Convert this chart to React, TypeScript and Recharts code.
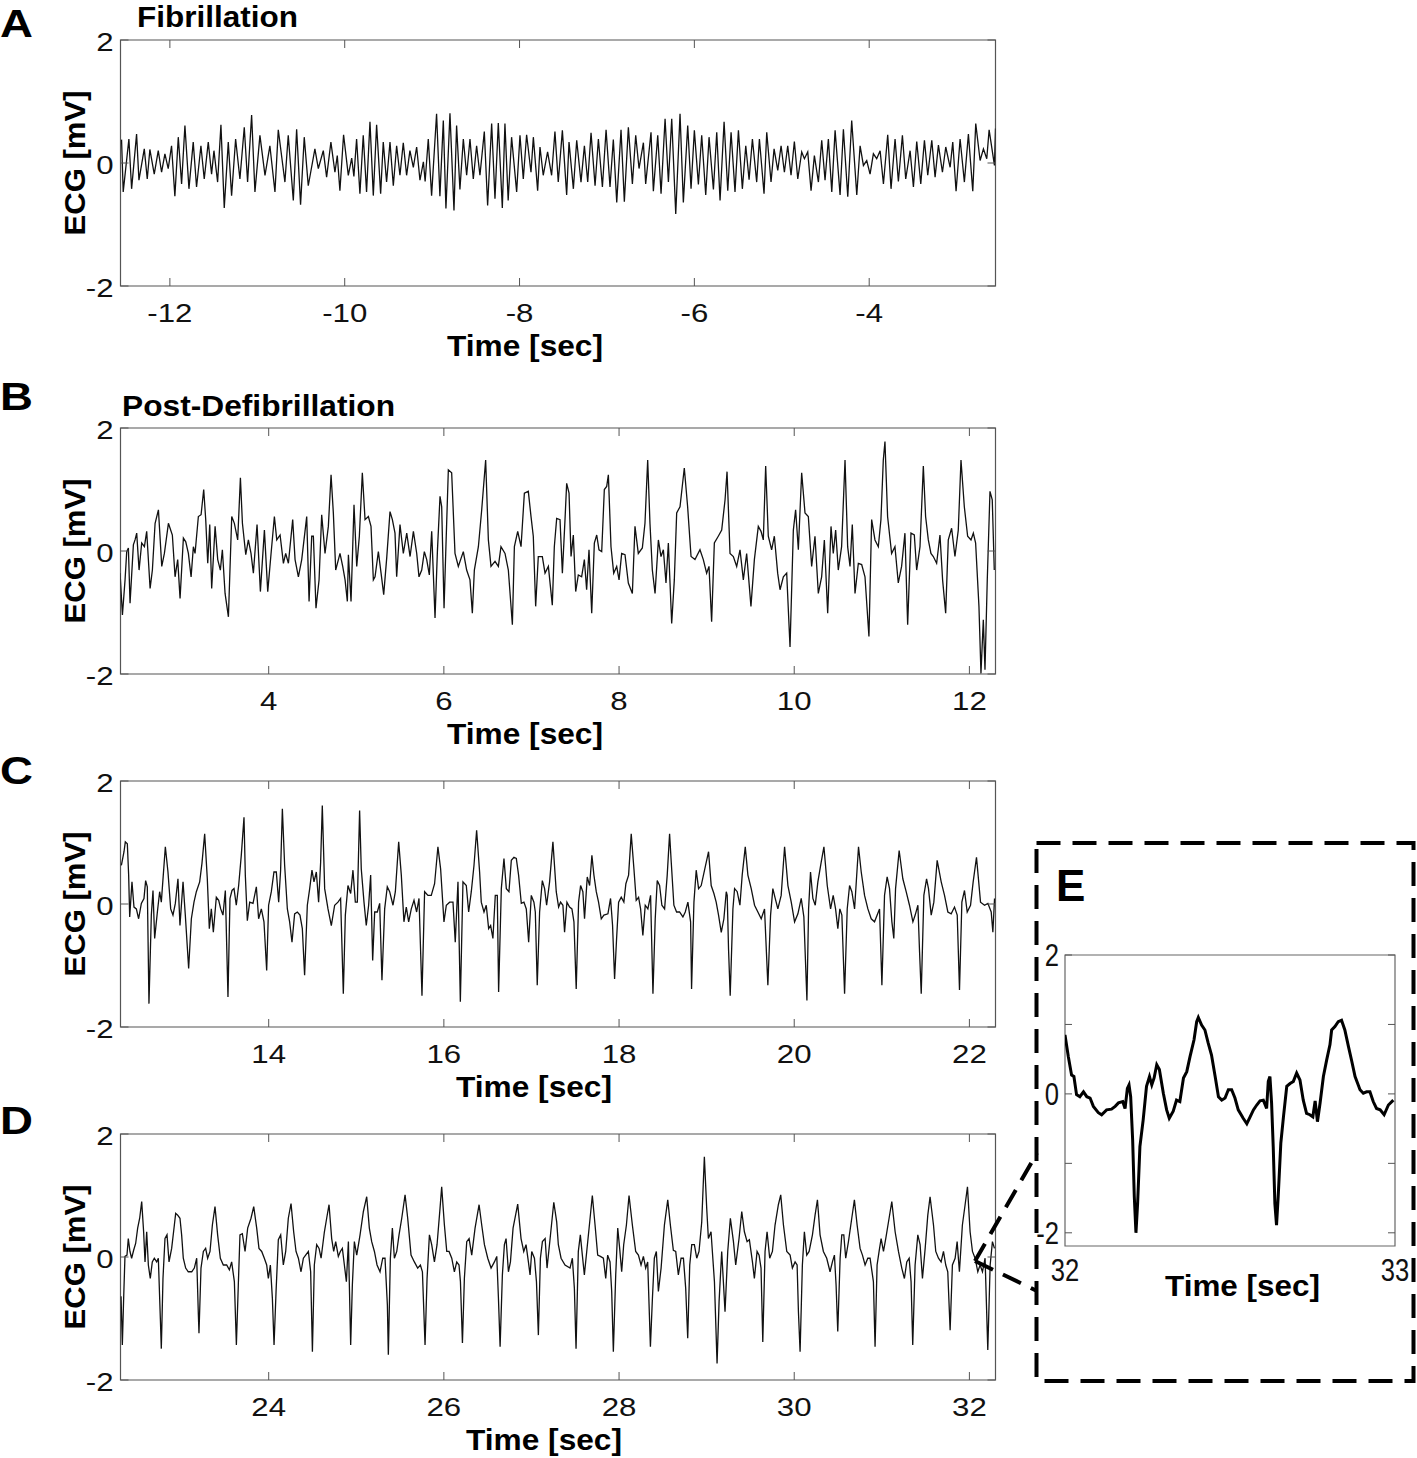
import React from "react";
import { LineChart, Line, XAxis, YAxis, ReferenceArea } from "recharts";

const FONT = '"Liberation Sans", Arial, Helvetica, sans-serif';
const INK = "#111";
const FRAME = "#555";

// Turning points of each trace, [time in sec, ECG in mV]

// A: fibrillation
const fibrillationEcg: [number, number][] = [
  [-12.553, 0.38], [-12.534, -0.47], [-12.469, 0.39], [-12.438, -0.42], [-12.381, 0.47], [-12.354, -0.28],
  [-12.293, 0.23], [-12.259, -0.26], [-12.229, 0.22], [-12.179, -0.18], [-12.133, 0.2], [-12.095, -0.15],
  [-12.057, 0.15], [-12.019, -0.09], [-11.981, 0.28], [-11.943, -0.54], [-11.904, 0.42], [-11.866, -0.34],
  [-11.828, 0.61], [-11.782, -0.42], [-11.733, 0.34], [-11.695, -0.39], [-11.645, 0.28], [-11.607, -0.26],
  [-11.561, 0.34], [-11.523, -0.18], [-11.496, 0.2], [-11.454, -0.31], [-11.416, 0.62], [-11.378, -0.73],
  [-11.332, 0.34], [-11.294, -0.53], [-11.248, 0.39], [-11.199, -0.26], [-11.149, 0.58], [-11.111, -0.31],
  [-11.065, 0.78], [-11.027, -0.47], [-10.97, 0.45], [-10.912, -0.2], [-10.856, 0.28], [-10.798, -0.47],
  [-10.76, 0.54], [-10.684, -0.31], [-10.646, 0.45], [-10.588, -0.61], [-10.55, 0.55], [-10.505, -0.68],
  [-10.463, 0.42], [-10.417, -0.37], [-10.341, 0.23], [-10.302, -0.09], [-10.245, 0.2], [-10.207, -0.23],
  [-10.158, 0.34], [-10.112, -0.15], [-10.085, 0.12], [-10.055, -0.45], [-10.013, 0.46], [-9.959, -0.2],
  [-9.92, 0.08], [-9.895, -0.22], [-9.864, 0.39], [-9.826, -0.5], [-9.788, 0.45], [-9.75, -0.47],
  [-9.711, 0.67], [-9.673, -0.53], [-9.635, 0.62], [-9.589, -0.5], [-9.559, 0.34], [-9.521, -0.31],
  [-9.482, 0.34], [-9.444, -0.37], [-9.406, 0.28], [-9.368, -0.2], [-9.33, 0.33], [-9.292, -0.2],
  [-9.254, 0.2], [-9.215, -0.07], [-9.177, 0.26], [-9.139, -0.28], [-9.1, 0.02], [-9.08, -0.3],
  [-9.044, 0.39], [-9.006, -0.53], [-8.949, 0.8], [-8.911, -0.54], [-8.872, 0.69], [-8.842, -0.74],
  [-8.796, 0.81], [-8.75, -0.77], [-8.72, 0.61], [-8.682, -0.43], [-8.643, 0.39], [-8.605, -0.2],
  [-8.567, 0.39], [-8.529, -0.26], [-8.491, 0.28], [-8.453, -0.2], [-8.403, 0.51], [-8.365, -0.69],
  [-8.319, 0.64], [-8.281, -0.58], [-8.243, 0.65], [-8.197, -0.73], [-8.167, 0.64], [-8.13, -0.61],
  [-8.091, 0.42], [-8.033, -0.47], [-7.995, 0.45], [-7.957, -0.26], [-7.919, 0.46], [-7.869, -0.15],
  [-7.842, 0.42], [-7.793, -0.45], [-7.766, 0.26], [-7.729, -0.2], [-7.679, 0.18], [-7.633, -0.2],
  [-7.595, 0.51], [-7.557, -0.31], [-7.51, 0.53], [-7.461, -0.52], [-7.434, 0.34], [-7.384, -0.42],
  [-7.346, 0.37], [-7.297, -0.31], [-7.258, 0.28], [-7.22, -0.31], [-7.182, 0.49], [-7.136, -0.37],
  [-7.098, 0.39], [-7.052, -0.39], [-7.01, 0.54], [-6.965, -0.39], [-6.927, 0.38], [-6.888, -0.64],
  [-6.839, 0.54], [-6.801, -0.63], [-6.755, 0.58], [-6.709, -0.34], [-6.671, 0.45], [-6.633, -0.09],
  [-6.583, 0.33], [-6.557, -0.34], [-6.496, 0.5], [-6.469, -0.46], [-6.419, 0.45], [-6.381, -0.5],
  [-6.335, 0.72], [-6.297, -0.31], [-6.259, 0.72], [-6.213, -0.83], [-6.164, 0.8], [-6.126, -0.64],
  [-6.076, 0.61], [-6.038, -0.42], [-6.0, 0.53], [-5.954, -0.35], [-5.916, 0.45], [-5.87, -0.52],
  [-5.832, 0.42], [-5.782, -0.43], [-5.744, 0.5], [-5.706, -0.61], [-5.66, 0.67], [-5.618, -0.45],
  [-5.58, 0.5], [-5.535, -0.47], [-5.496, 0.53], [-5.451, -0.42], [-5.412, 0.28], [-5.374, -0.27],
  [-5.336, 0.39], [-5.287, -0.31], [-5.256, 0.39], [-5.203, -0.5], [-5.172, 0.5], [-5.123, -0.31],
  [-5.088, 0.23], [-5.046, -0.12], [-5.008, 0.28], [-4.97, -0.15], [-4.932, 0.28], [-4.894, -0.2],
  [-4.856, 0.35], [-4.817, -0.26], [-4.772, 0.18], [-4.741, 0.07], [-4.703, 0.18], [-4.665, -0.45],
  [-4.627, 0.12], [-4.581, -0.31], [-4.543, 0.37], [-4.505, -0.28], [-4.467, 0.39], [-4.428, -0.47],
  [-4.39, 0.53], [-4.333, -0.52], [-4.295, 0.55], [-4.245, -0.55], [-4.2, 0.69], [-4.142, -0.52],
  [-4.104, 0.28], [-4.066, -0.04], [-4.028, 0.04], [-3.99, -0.18], [-3.952, 0.15], [-3.914, 0.07],
  [-3.875, 0.2], [-3.837, -0.34], [-3.788, 0.46], [-3.75, -0.42], [-3.704, 0.39], [-3.666, -0.3],
  [-3.62, 0.45], [-3.582, -0.26], [-3.532, 0.2], [-3.494, -0.39], [-3.456, 0.35], [-3.41, -0.34],
  [-3.368, 0.37], [-3.33, -0.2], [-3.284, 0.37], [-3.246, -0.23], [-3.208, 0.29], [-3.162, -0.15],
  [-3.124, 0.26], [-3.074, -0.07], [-3.044, 0.34], [-3.006, -0.46], [-2.96, 0.39], [-2.911, -0.31],
  [-2.865, 0.47], [-2.815, -0.46], [-2.781, 0.64], [-2.731, 0.04], [-2.693, 0.23], [-2.655, 0.07],
  [-2.628, 0.54], [-2.567, -0.04], [-2.555, 0.56],
];

// B: post-defibrillation
const postShockEcg: [number, number][] = [
  [2.303, -0.36], [2.33, -1.04], [2.36, -0.47], [2.379, -0.01], [2.398, 0.05], [2.417, -0.85], [2.455, 0.1],
  [2.474, 0.18], [2.493, 0.29], [2.52, -0.31], [2.55, 0.13], [2.581, 0.07], [2.607, 0.32], [2.646, -0.61],
  [2.672, -0.31], [2.703, 0.45], [2.741, 0.67], [2.779, -0.25], [2.809, -0.04], [2.855, 0.45], [2.9, 0.26],
  [2.931, -0.42], [2.961, -0.14], [2.988, -0.77], [3.026, 0.21], [3.053, 0.15], [3.083, -0.04], [3.114, -0.42],
  [3.14, 0.07], [3.159, -0.04], [3.197, 0.56], [3.228, 0.59], [3.258, 1.0], [3.281, 0.51], [3.304, -0.2],
  [3.327, 0.43], [3.349, -0.61], [3.388, 0.4], [3.418, -0.14], [3.448, -0.31], [3.471, 0.02], [3.502, -0.69],
  [3.54, -1.07], [3.578, 0.56], [3.608, 0.45], [3.646, 0.18], [3.677, 1.19], [3.7, 0.45], [3.738, -0.06],
  [3.768, 0.18], [3.798, -0.04], [3.825, -0.36], [3.867, 0.43], [3.905, -0.66], [3.951, 0.34], [3.989, -0.66],
  [4.027, -0.04], [4.065, 0.56], [4.092, 0.18], [4.13, 0.26], [4.168, -0.2], [4.194, -0.04], [4.225, -0.2],
  [4.274, 0.51], [4.301, -0.14], [4.339, -0.42], [4.377, -0.14], [4.434, 0.56], [4.461, -0.82], [4.491, 0.24],
  [4.51, 0.24], [4.54, -0.93], [4.575, -0.47], [4.605, 0.59], [4.643, -0.04], [4.681, 0.4], [4.712, 1.24],
  [4.738, 0.62], [4.765, -0.31], [4.814, -0.04], [4.845, -0.25], [4.872, -0.47], [4.898, -0.82], [4.91, -0.06],
  [4.94, -0.82], [4.974, 0.75], [5.005, -0.25], [5.035, 0.24], [5.069, 1.27], [5.1, 0.51], [5.138, 0.56],
  [5.168, 0.4], [5.195, -0.47], [5.214, -0.42], [5.252, -0.01], [5.283, -0.36], [5.313, -0.71], [5.347, -0.12],
  [5.385, 0.64], [5.412, 0.51], [5.442, 0.29], [5.461, -0.42], [5.499, 0.43], [5.537, -0.04], [5.576, 0.29],
  [5.614, -0.09], [5.652, 0.32], [5.69, -0.04], [5.716, -0.42], [5.747, -0.31], [5.777, -0.01], [5.804, -0.14],
  [5.834, -0.39], [5.861, 0.32], [5.899, -1.09], [5.926, -0.01], [5.956, 0.89], [5.975, 0.72], [6.002, -0.93],
  [6.021, -0.04], [6.051, 1.32], [6.089, 1.27], [6.127, -0.04], [6.165, -0.25], [6.222, -0.01], [6.26, -0.31],
  [6.298, -0.47], [6.325, -1.01], [6.348, -0.31], [6.394, 0.07], [6.432, 0.67], [6.477, 1.48], [6.508, 0.18],
  [6.538, -0.25], [6.584, -0.17], [6.622, -0.25], [6.652, 0.07], [6.698, -0.04], [6.736, -0.31], [6.782, -1.2],
  [6.805, 0.07], [6.843, 0.32], [6.881, 0.07], [6.919, 0.94], [6.964, 0.97], [6.995, 0.56], [7.021, 0.24],
  [7.048, -0.9], [7.078, -0.09], [7.124, -0.09], [7.155, -0.36], [7.193, -0.25], [7.238, -0.88], [7.261, 0.07],
  [7.288, 0.53], [7.326, 0.51], [7.353, -0.36], [7.383, 0.51], [7.402, 1.1], [7.429, 0.94], [7.452, -0.09],
  [7.478, 0.26], [7.505, -0.66], [7.535, -0.39], [7.573, -0.42], [7.604, -0.14], [7.63, -0.63], [7.657, 0.02],
  [7.688, -1.01], [7.718, 0.13], [7.745, 0.26], [7.771, 0.02], [7.802, -0.01], [7.832, 1.0], [7.859, 1.05],
  [7.878, 1.24], [7.908, 0.07], [7.939, -0.36], [7.973, -0.25], [8.0, -0.47], [8.03, -0.04], [8.068, -0.06],
  [8.106, -0.52], [8.152, -0.69], [8.182, 0.4], [8.22, -0.04], [8.266, 0.05], [8.296, 0.45], [8.327, 1.48],
  [8.353, 0.45], [8.38, -0.31], [8.411, -0.69], [8.449, 0.18], [8.479, -0.09], [8.506, 0.02], [8.536, -0.52],
  [8.563, 0.13], [8.601, -1.18], [8.631, -0.47], [8.658, 0.62], [8.696, 0.72], [8.745, 1.35], [8.783, 0.72],
  [8.822, -0.09], [8.867, -0.14], [8.924, 0.02], [8.962, -0.14], [9.0, -0.36], [9.027, -0.25], [9.057, -1.15],
  [9.088, 0.13], [9.133, 0.24], [9.172, 0.34], [9.21, 0.83], [9.233, 1.29], [9.267, -0.04], [9.305, -0.09],
  [9.343, -0.25], [9.381, 0.02], [9.419, -0.47], [9.457, -0.04], [9.506, -0.9], [9.545, -0.14], [9.59, 0.4],
  [9.621, 0.32], [9.647, 0.18], [9.674, 1.38], [9.704, 0.24], [9.742, 0.02], [9.773, 0.24], [9.811, -0.36],
  [9.838, -0.63], [9.876, -0.42], [9.914, -0.36], [9.952, -1.56], [9.99, 0.34], [10.016, 0.67], [10.047, 0.02],
  [10.085, 1.27], [10.123, 0.62], [10.161, 0.56], [10.199, -0.25], [10.237, 0.24], [10.275, -0.69], [10.313, -0.42],
  [10.344, 0.18], [10.382, -1.01], [10.42, 0.4], [10.446, -0.04], [10.473, 0.34], [10.503, -0.31], [10.541, 0.07],
  [10.58, 1.48], [10.61, 0.07], [10.637, -0.25], [10.663, 0.43], [10.694, -0.69], [10.732, -0.2], [10.77, -0.22],
  [10.808, -0.42], [10.853, -1.39], [10.884, 0.51], [10.922, 0.18], [10.96, 0.07], [10.99, 0.51], [11.017, 1.48],
  [11.036, 1.78], [11.066, 0.56], [11.112, -0.04], [11.15, 0.07], [11.188, -0.52], [11.226, -0.25], [11.264, 0.29],
  [11.295, -1.2], [11.333, 0.29], [11.371, 0.26], [11.398, -0.31], [11.436, 0.07], [11.474, 1.38], [11.5, 0.56],
  [11.531, 0.18], [11.561, -0.04], [11.588, -0.09], [11.626, -0.2], [11.664, 0.26], [11.694, -0.47], [11.729, -1.01],
  [11.759, 0.18], [11.797, 0.37], [11.835, -0.09], [11.873, 0.34], [11.904, 1.48], [11.942, 0.72], [11.98, 0.24],
  [12.018, 0.18], [12.045, 0.29], [12.071, 0.13], [12.109, -0.9], [12.132, -1.99], [12.159, -1.12], [12.178, -1.93],
  [12.204, -0.47], [12.235, 0.97], [12.261, 0.83], [12.284, -0.31],
];

// C: 12-22 s
const recoveryEcg: [number, number][] = [
  [12.318, 0.63], [12.348, 0.85], [12.363, 1.01], [12.386, 0.98], [12.401, 0.47], [12.413, -0.21], [12.439, 0.36],
  [12.462, -0.05], [12.489, -0.08], [12.515, -0.24], [12.546, 0.01], [12.576, 0.09], [12.595, 0.38], [12.614, 0.28],
  [12.633, -1.62], [12.66, -0.18], [12.679, 0.22], [12.698, -0.56], [12.729, -0.13], [12.755, 0.2], [12.774, 0.03],
  [12.82, 0.93], [12.85, 0.52], [12.881, -0.08], [12.907, -0.18], [12.934, 0.01], [12.964, 0.41], [12.987, -0.35],
  [13.022, 0.36], [13.048, -0.18], [13.086, -1.05], [13.117, -0.24], [13.147, 0.03], [13.174, 0.2], [13.212, 0.36],
  [13.238, 0.66], [13.269, 1.14], [13.299, 0.41], [13.322, -0.4], [13.345, -0.08], [13.368, -0.46], [13.402, 0.11],
  [13.429, 0.06], [13.452, -0.08], [13.478, -0.18], [13.505, 0.22], [13.535, -1.51], [13.558, 0.09], [13.581, 0.22],
  [13.604, 0.25], [13.63, -0.02], [13.657, 0.3], [13.687, 0.79], [13.718, 1.41], [13.733, 0.47], [13.756, -0.27],
  [13.783, 0.03], [13.821, 0.01], [13.859, 0.28], [13.885, -0.24], [13.916, -0.08], [13.946, -0.29], [13.977, -1.08],
  [13.999, -0.02], [14.03, 0.2], [14.06, 0.52], [14.087, 0.52], [14.114, 0.03], [14.136, 0.55], [14.156, 1.55],
  [14.182, 0.63], [14.213, -0.08], [14.239, -0.29], [14.266, -0.62], [14.296, -0.16], [14.327, -0.13], [14.357, -0.18],
  [14.384, -0.4], [14.41, -1.16], [14.441, -0.02], [14.468, 0.25], [14.494, 0.55], [14.517, 0.36], [14.544, 0.52],
  [14.57, 0.03], [14.593, 0.68], [14.612, 1.6], [14.639, 0.25], [14.677, -0.08], [14.715, -0.35], [14.753, -0.02],
  [14.791, 0.03], [14.821, 0.09], [14.852, -1.46], [14.875, -0.18], [14.905, 0.3], [14.936, 0.17], [14.962, 0.55],
  [14.989, 0.03], [15.012, 0.03], [15.038, 1.52], [15.057, 0.57], [15.088, 0.03], [15.114, -0.35], [15.141, -0.02],
  [15.164, 0.47], [15.187, -0.92], [15.21, -0.13], [15.24, -0.13], [15.267, 0.01], [15.293, -1.24], [15.324, -0.08],
  [15.354, 0.28], [15.381, 0.2], [15.419, -0.02], [15.446, 0.2], [15.484, 1.01], [15.514, 0.47], [15.544, -0.29],
  [15.571, -0.05], [15.598, -0.29], [15.628, -0.08], [15.659, 0.06], [15.689, -0.13], [15.716, 0.09], [15.75, -1.49],
  [15.78, 0.2], [15.818, 0.14], [15.856, 0.14], [15.894, 0.33], [15.932, 0.93], [15.963, 0.57], [16.001, -0.29],
  [16.028, -0.02], [16.066, 0.03], [16.104, 0.03], [16.13, -0.62], [16.161, 0.36], [16.188, -1.59], [16.218, 0.36],
  [16.256, 0.3], [16.283, -0.13], [16.313, 0.2], [16.344, 0.63], [16.374, 1.2], [16.408, 0.52], [16.427, 0.03],
  [16.458, -0.13], [16.484, -0.02], [16.511, -0.4], [16.534, -0.35], [16.56, -0.56], [16.587, 0.14], [16.61, 0.14],
  [16.625, -1.43], [16.656, 0.25], [16.686, 0.74], [16.713, 0.25], [16.743, 0.2], [16.77, 0.71], [16.8, 0.76],
  [16.827, 0.74], [16.853, 0.47], [16.884, 0.01], [16.914, 0.03], [16.941, -0.08], [16.968, -0.62], [16.998, 0.14],
  [17.028, 0.03], [17.044, -0.13], [17.066, -1.32], [17.093, -0.13], [17.124, 0.38], [17.15, 0.25], [17.173, -0.02],
  [17.207, 0.36], [17.245, 1.01], [17.283, 0.2], [17.31, -0.05], [17.332, 0.03], [17.359, -0.02], [17.378, -0.46],
  [17.405, 0.03], [17.435, -0.05], [17.462, -0.08], [17.485, -0.29], [17.511, -1.38], [17.538, 0.03], [17.561, 0.3],
  [17.587, 0.2], [17.606, -0.24], [17.637, 0.44], [17.664, 0.3], [17.69, 0.79], [17.713, 0.47], [17.74, 0.2],
  [17.766, 0.03], [17.797, -0.24], [17.827, -0.18], [17.873, -0.16], [17.903, 0.09], [17.926, -0.35], [17.949, -1.22],
  [17.972, -0.56], [17.995, 0.03], [18.025, 0.11], [18.055, 0.03], [18.078, 0.33], [18.109, 0.47], [18.139, 1.14],
  [18.17, 0.57], [18.196, 0.06], [18.223, 0.11], [18.246, -0.08], [18.272, -0.51], [18.299, -0.02], [18.329, -0.08],
  [18.36, 0.14], [18.387, -1.46], [18.413, -0.24], [18.436, 0.38], [18.463, 0.3], [18.489, -0.02], [18.52, -0.08],
  [18.55, 0.47], [18.577, 1.14], [18.596, 0.68], [18.626, -0.02], [18.657, -0.13], [18.691, -0.13], [18.729, -0.21],
  [18.756, -0.13], [18.786, 0.03], [18.817, -0.29], [18.828, -1.38], [18.855, 0.03], [18.881, 0.55], [18.908, 0.25],
  [18.938, 0.3], [18.976, 0.55], [19.022, 0.85], [19.052, 0.3], [19.083, 0.17], [19.109, 0.03], [19.136, -0.18],
  [19.167, -0.46], [19.197, -0.24], [19.224, 0.2], [19.235, 0.14], [19.25, -0.73], [19.269, -1.49], [19.3, -0.08],
  [19.319, 0.25], [19.349, 0.2], [19.38, -0.02], [19.406, 0.47], [19.441, 0.93], [19.471, 0.47], [19.509, 0.25],
  [19.547, -0.02], [19.585, -0.13], [19.623, -0.24], [19.661, -0.08], [19.699, -1.32], [19.73, -0.18], [19.756, 0.25],
  [19.783, 0.09], [19.813, -0.08], [19.851, 0.14], [19.89, 0.93], [19.928, 0.3], [19.966, 0.03], [20.004, -0.29],
  [20.042, -0.16], [20.08, 0.09], [20.11, -0.21], [20.145, -1.57], [20.164, -0.08], [20.186, 0.52], [20.213, 0.09],
  [20.24, -0.02], [20.27, 0.36], [20.308, 0.68], [20.339, 0.93], [20.377, 0.3], [20.415, -0.08], [20.445, 0.14],
  [20.472, -0.08], [20.498, -0.4], [20.521, -0.08], [20.544, -0.18], [20.575, -1.46], [20.605, -0.08], [20.632, 0.3],
  [20.658, 0.2], [20.689, -0.08], [20.734, 0.93], [20.765, 0.52], [20.803, 0.14], [20.841, -0.08], [20.879, -0.24],
  [20.917, -0.29], [20.947, -0.18], [20.974, -0.08], [21.001, -1.32], [21.031, 0.14], [21.061, 0.44], [21.088, 0.25],
  [21.115, -0.29], [21.137, -0.56], [21.157, 0.25], [21.198, 0.87], [21.24, 0.41], [21.278, 0.2], [21.316, -0.02],
  [21.355, -0.29], [21.381, -0.18], [21.412, -0.02], [21.431, -0.78], [21.45, -1.46], [21.48, 0.14], [21.511, 0.41],
  [21.533, 0.25], [21.564, -0.18], [21.594, 0.03], [21.632, 0.71], [21.678, 0.36], [21.716, 0.14], [21.754, -0.13],
  [21.792, -0.16], [21.83, -0.05], [21.861, -0.18], [21.887, -1.4], [21.914, 0.03], [21.944, 0.22], [21.975, -0.13],
  [22.013, -0.02], [22.043, 0.36], [22.081, 0.76], [22.127, 0.03], [22.173, -0.02], [22.211, 0.01], [22.249, -0.13],
  [22.268, -0.46], [22.287, 0.09],
];

// D: 22-32 s
const lateEcg: [number, number][] = [
  [22.314, -0.64], [22.329, -1.43], [22.344, -0.67], [22.359, 0.01], [22.382, 0.03], [22.397, 0.3], [22.416, 0.09],
  [22.435, -0.02], [22.458, 0.11], [22.481, 0.22], [22.504, 0.47], [22.527, 0.63], [22.55, 0.9], [22.572, 0.41],
  [22.588, -0.08], [22.607, 0.41], [22.626, -0.13], [22.648, -0.35], [22.671, -0.08], [22.694, -0.02], [22.721, -0.08],
  [22.74, -0.02], [22.763, -1.0], [22.774, -1.49], [22.793, -0.35], [22.816, 0.3], [22.839, 0.36], [22.862, -0.08],
  [22.892, 0.14], [22.923, 0.52], [22.938, 0.71], [22.961, 0.68], [22.987, 0.63], [23.006, 0.36], [23.025, -0.02],
  [23.052, -0.18], [23.082, -0.24], [23.121, -0.24], [23.151, -0.18], [23.178, -0.02], [23.197, -0.94], [23.204, -1.24],
  [23.227, -0.18], [23.254, 0.09], [23.28, 0.14], [23.303, -0.02], [23.33, 0.09], [23.357, 0.52], [23.387, 0.82],
  [23.417, 0.36], [23.448, -0.02], [23.482, -0.13], [23.52, -0.13], [23.551, -0.21], [23.577, -0.08], [23.608, -0.4],
  [23.631, -1.43], [23.653, -0.46], [23.672, 0.36], [23.699, 0.38], [23.73, 0.09], [23.76, 0.47], [23.798, 0.63],
  [23.829, 0.82], [23.863, 0.47], [23.889, 0.14], [23.92, 0.09], [23.95, -0.02], [23.977, -0.13], [23.996, -0.35],
  [24.019, -0.13], [24.042, -0.67], [24.061, -1.43], [24.084, -0.56], [24.11, 0.28], [24.137, 0.36], [24.167, -0.13],
  [24.194, 0.09], [24.224, 0.63], [24.255, 0.87], [24.285, 0.41], [24.312, 0.09], [24.339, -0.02], [24.369, -0.24],
  [24.396, -0.02], [24.422, 0.03], [24.453, 0.09], [24.479, -0.24], [24.499, -1.54], [24.521, -0.13], [24.548, 0.2],
  [24.575, 0.14], [24.598, -0.02], [24.636, 0.41], [24.662, 0.63], [24.689, 0.85], [24.719, 0.3], [24.742, 0.09],
  [24.765, 0.25], [24.795, 0.01], [24.818, 0.09], [24.841, 0.14], [24.864, -0.13], [24.887, -0.4], [24.91, 0.25],
  [24.936, -1.43], [24.955, -0.46], [24.978, 0.25], [25.005, 0.03], [25.043, 0.36], [25.081, 0.74], [25.119, 0.98],
  [25.149, 0.47], [25.176, 0.25], [25.207, 0.09], [25.237, -0.13], [25.271, -0.24], [25.302, -0.02], [25.328, -0.02],
  [25.355, -0.78], [25.366, -1.59], [25.389, -0.02], [25.412, 0.47], [25.435, -0.02], [25.462, 0.09], [25.488, 0.36],
  [25.519, 0.63], [25.557, 1.01], [25.587, 0.63], [25.625, 0.03], [25.663, -0.08], [25.701, -0.18], [25.732, -0.13],
  [25.755, -0.24], [25.785, -1.43], [25.808, -0.35], [25.835, 0.36], [25.861, 0.2], [25.892, -0.08], [25.922, 0.2],
  [25.956, 0.79], [25.975, 1.14], [26.006, 0.52], [26.033, 0.09], [26.059, 0.09], [26.09, -0.02], [26.12, -0.24],
  [26.147, -0.08], [26.173, -0.13], [26.189, -0.4], [26.212, -1.4], [26.234, -0.35], [26.261, 0.25], [26.288, 0.3],
  [26.318, 0.03], [26.356, 0.47], [26.402, 0.85], [26.432, 0.52], [26.463, 0.2], [26.501, -0.02], [26.539, -0.18],
  [26.577, -0.08], [26.604, 0.01], [26.623, -0.67], [26.642, -1.46], [26.668, -0.29], [26.691, 0.2], [26.71, 0.3],
  [26.737, -0.24], [26.76, -0.08], [26.79, 0.47], [26.843, 0.86], [26.881, 0.3], [26.912, 0.09], [26.938, 0.2],
  [26.965, -0.08], [26.984, -0.29], [27.003, 0.09], [27.034, -0.02], [27.057, -0.4], [27.079, -1.27], [27.102, -0.02],
  [27.125, 0.25], [27.156, 0.3], [27.178, -0.18], [27.213, 0.3], [27.255, 0.89], [27.288, 0.57], [27.307, 0.2],
  [27.338, -0.02], [27.383, -0.13], [27.44, -0.18], [27.467, -0.02], [27.49, -0.51], [27.509, -1.49], [27.535, 0.09],
  [27.558, 0.36], [27.581, 0.03], [27.604, -0.29], [27.631, 0.09], [27.665, 0.57], [27.695, 1.0], [27.726, 0.52],
  [27.756, 0.03], [27.787, 0.01], [27.821, -0.02], [27.848, -0.35], [27.87, 0.03], [27.897, -0.08], [27.916, -0.56],
  [27.935, -1.54], [27.962, -0.29], [27.985, 0.47], [28.007, 0.14], [28.03, -0.24], [28.053, 0.2], [28.084, 0.52],
  [28.114, 1.0], [28.152, 0.52], [28.19, 0.09], [28.221, 0.03], [28.251, -0.13], [28.278, 0.01], [28.304, -0.18],
  [28.327, -0.08], [28.358, -1.46], [28.381, -0.67], [28.403, -0.02], [28.426, 0.09], [28.449, -0.56], [28.48, -0.18],
  [28.518, 0.52], [28.556, 0.93], [28.586, 0.52], [28.62, 0.11], [28.647, 0.09], [28.677, -0.29], [28.708, -0.02],
  [28.735, -0.02], [28.761, -0.51], [28.784, -1.32], [28.807, -0.13], [28.83, 0.2], [28.86, 0.2], [28.887, -0.02],
  [28.913, 0.09], [28.944, 0.57], [28.974, 1.63], [29.001, 0.79], [29.02, 0.3], [29.05, 0.41], [29.089, -0.4],
  [29.119, -1.73], [29.142, -0.73], [29.172, 0.09], [29.21, -0.89], [29.241, 0.09], [29.271, 0.63], [29.306, 0.25],
  [29.332, -0.13], [29.37, 0.3], [29.401, 0.74], [29.431, 0.41], [29.462, 0.25], [29.488, 0.28], [29.523, -0.08],
  [29.545, -0.35], [29.576, 0.09], [29.599, 0.03], [29.621, -0.18], [29.641, -1.38], [29.667, 0.09], [29.69, 0.41],
  [29.72, -0.02], [29.751, 0.09], [29.781, 0.52], [29.819, 0.85], [29.846, 1.01], [29.877, 0.52], [29.915, 0.09],
  [29.953, 0.03], [29.979, -0.18], [30.01, -0.08], [30.033, -0.13], [30.048, -0.89], [30.067, -1.54], [30.093, -0.13],
  [30.116, 0.41], [30.143, 0.03], [30.17, 0.09], [30.208, 0.36], [30.238, 0.68], [30.265, 0.93], [30.295, 0.36],
  [30.333, 0.09], [30.371, -0.02], [30.409, -0.24], [30.436, -0.08], [30.459, 0.03], [30.478, -0.46], [30.497, -1.21],
  [30.524, -0.02], [30.543, 0.36], [30.566, 0.36], [30.588, -0.02], [30.619, 0.25], [30.657, 0.63], [30.687, 0.93],
  [30.718, 0.52], [30.752, 0.14], [30.779, 0.03], [30.809, -0.13], [30.84, -0.02], [30.866, -0.02], [30.904, -0.4],
  [30.923, -1.46], [30.946, -0.13], [30.969, 0.09], [30.992, 0.3], [31.019, 0.09], [31.045, 0.3], [31.083, 0.63],
  [31.114, 0.9], [31.152, 0.41], [31.19, 0.09], [31.228, -0.18], [31.258, -0.35], [31.285, -0.08], [31.312, -0.02],
  [31.334, -0.4], [31.353, -1.43], [31.38, -0.13], [31.411, 0.36], [31.437, 0.2], [31.464, -0.35], [31.495, 0.14],
  [31.525, 0.68], [31.551, 0.98], [31.59, 0.52], [31.616, 0.09], [31.647, -0.02], [31.677, -0.08], [31.704, 0.09],
  [31.73, -0.13], [31.753, -0.24], [31.78, -1.19], [31.806, -0.13], [31.837, -0.02], [31.86, 0.25], [31.886, -0.24],
  [31.92, 0.52], [31.951, 0.85], [31.978, 1.14], [32.008, 0.41], [32.035, 0.09], [32.065, -0.02], [32.096, -0.24],
  [32.122, -0.13], [32.149, -0.24], [32.179, -0.02], [32.21, -1.51], [32.237, -0.13], [32.263, 0.25], [32.286, 0.14],
];

// E: 32-33 s, zoomed
const zoomEcg: [number, number][] = [
  [32.0, 0.85], [32.01, 0.54], [32.02, 0.27], [32.027, 0.25], [32.035, -0.01], [32.045, -0.04], [32.056, 0.03],
  [32.066, -0.04], [32.076, -0.06], [32.086, -0.18], [32.101, -0.27], [32.111, -0.3], [32.126, -0.23], [32.141, -0.22],
  [32.152, -0.18], [32.162, -0.13], [32.175, -0.11], [32.182, -0.21], [32.189, 0.08], [32.194, 0.13], [32.199, -0.04],
  [32.205, -0.66], [32.21, -1.48], [32.215, -2.0], [32.22, -1.58], [32.227, -0.76], [32.237, -0.37], [32.247, 0.11],
  [32.256, 0.25], [32.263, 0.13], [32.27, 0.23], [32.278, 0.42], [32.286, 0.35], [32.298, 0.01], [32.308, -0.23],
  [32.316, -0.35], [32.328, -0.25], [32.338, -0.09], [32.348, -0.11], [32.359, 0.23], [32.369, 0.32], [32.379, 0.54],
  [32.391, 0.78], [32.399, 1.04], [32.404, 1.1], [32.414, 0.99], [32.424, 0.92], [32.434, 0.73], [32.444, 0.56],
  [32.455, 0.25], [32.465, -0.04], [32.475, -0.09], [32.485, -0.06], [32.495, 0.06], [32.505, 0.06], [32.515, -0.06],
  [32.525, -0.23], [32.54, -0.35], [32.551, -0.43], [32.561, -0.33], [32.571, -0.23], [32.581, -0.16], [32.591, -0.1],
  [32.601, -0.09], [32.611, -0.21], [32.616, 0.18], [32.621, 0.25], [32.626, -0.13], [32.631, -0.76], [32.636, -1.58],
  [32.641, -1.89], [32.646, -1.48], [32.654, -0.71], [32.662, -0.33], [32.672, 0.11], [32.682, 0.15], [32.692, 0.18],
  [32.702, 0.3], [32.712, 0.2], [32.722, -0.09], [32.732, -0.28], [32.742, -0.3], [32.751, -0.33], [32.758, -0.1],
  [32.765, -0.4], [32.773, -0.13], [32.783, 0.25], [32.793, 0.49], [32.803, 0.71], [32.808, 0.92], [32.818, 0.97],
  [32.828, 1.04], [32.838, 1.06], [32.848, 0.92], [32.859, 0.68], [32.869, 0.47], [32.879, 0.25], [32.894, 0.06],
  [32.904, 0.01], [32.914, 0.03], [32.924, 0.03], [32.934, -0.11], [32.944, -0.21], [32.955, -0.23], [32.967, -0.3],
  [32.98, -0.16], [32.995, -0.09],
];

const fibTicks = [-12, -10, -8, -6, -4];
const postTicks = [4, 6, 8, 10, 12];
const recoveryTicks = [14, 16, 18, 20, 22];
const lateTicks = [24, 26, 28, 30, 32];
const mvTicks = [-2, 0, 2];
const zoomTimeTicks = [32, 33];
const zoomMvTicks = [-2, -1, 0, 1, 2];
const zoomMvLabels = [-2, 0, 2];

// panel geometry (page pixels)
const PLOT_LEFT = 120.5;
const PLOT_RIGHT = 995.5;
const CHART_W = 1000;
const PAD_TOP = 12;
const PLOT_H = 246;
const AXIS_H = 80;

type PanelProps = {
  plotTop: number;
  points: [number, number][];
  domain: [number, number];
  ticks: number[];
  titleX: number;
};

function EcgPanel({ plotTop, points, domain, ticks, titleX }: PanelProps) {
  const data = points.map(([t, v]) => ({ t, v }));
  const yTop = PAD_TOP;
  const yBottom = PAD_TOP + PLOT_H;

  const timeTick = (props: any) => {
    const { x, payload } = props;
    return (
      <g>
        <line x1={x} x2={x} y1={yBottom} y2={yBottom - 8} stroke={FRAME} />
        <line x1={x} x2={x} y1={yTop} y2={yTop + 8} stroke={FRAME} />
        <text
          transform={`translate(${x},${yBottom + 36}) scale(1.2,1)`}
          textAnchor="middle"
          fontSize={26}
          fontFamily={FONT}
          fill={INK}
        >
          {payload.value}
        </text>
      </g>
    );
  };

  const mvTick = (props: any) => {
    const { y, payload } = props;
    return (
      <g>
        <line x1={PLOT_LEFT} x2={PLOT_LEFT + 8} y1={y} y2={y} stroke={FRAME} />
        <line x1={PLOT_RIGHT - 8} x2={PLOT_RIGHT} y1={y} y2={y} stroke={FRAME} />
        <text
          transform={`translate(${PLOT_LEFT - 7},${y + 11}) scale(1.2,1)`}
          textAnchor="end"
          fontSize={26}
          fontFamily={FONT}
          fill={INK}
        >
          {payload.value}
        </text>
      </g>
    );
  };

  const midY = yTop + PLOT_H / 2;

  return (
    <div style={{ position: "absolute", left: 0, top: plotTop - PAD_TOP }}>
      <LineChart
        width={CHART_W}
        height={PAD_TOP + PLOT_H + AXIS_H}
        data={data}
        margin={{ top: PAD_TOP, right: CHART_W - PLOT_RIGHT, bottom: 0, left: 0 }}
      >
        <XAxis
          type="number"
          dataKey="t"
          domain={domain}
          ticks={ticks}
          interval={0}
          allowDataOverflow
          height={AXIS_H}
          axisLine={false}
          tickLine={false}
          tick={timeTick}
          label={() => (
            <text
              x={titleX}
              y={yBottom + 70}
              textAnchor="middle"
              fontSize={30}
              fontWeight="bold"
              fontFamily={FONT}
              fill="#000"
              textLength={156}
              lengthAdjust="spacingAndGlyphs"
            >
              Time [sec]
            </text>
          )}
        />
        <YAxis
          type="number"
          domain={[-2, 2]}
          ticks={mvTicks}
          interval={0}
          allowDataOverflow
          width={PLOT_LEFT}
          axisLine={false}
          tickLine={false}
          tick={mvTick}
          label={() => (
            <text
              x={85}
              y={midY}
              transform={`rotate(-90 85 ${midY})`}
              textAnchor="middle"
              fontSize={30}
              fontWeight="bold"
              fontFamily={FONT}
              fill="#000"
              textLength={145}
              lengthAdjust="spacingAndGlyphs"
            >
              ECG [mV]
            </text>
          )}
        />
        <ReferenceArea
          x1={domain[0]}
          x2={domain[1]}
          y1={-2}
          y2={2}
          fill="none"
          stroke={FRAME}
          strokeWidth={1.2}
        />
        <Line
          type="linear"
          dataKey="v"
          stroke={INK}
          strokeWidth={1.3}
          dot={false}
          activeDot={false}
          isAnimationActive={false}
        />
      </LineChart>
    </div>
  );
}

// inset E geometry
const Z_LEFT = 1000;
const Z_TOP = 915;
const Z_W = 417;
const Z_PAD_TOP = 40;
const Z_PLOT_H = 291;
const Z_AXIS_W = 65;
const Z_AXIS_H = 70;
const Z_RIGHT_PAD = 22;

function ZoomPanel() {
  const data = zoomEcg.map(([t, v]) => ({ t, v }));
  const yBottom = Z_PAD_TOP + Z_PLOT_H;
  const plotRight = Z_W - Z_RIGHT_PAD;

  const timeTick = (props: any) => {
    const { x, payload } = props;
    return (
      <text
        transform={`translate(${x},${yBottom + 35}) scale(0.8,1)`}
        textAnchor="middle"
        fontSize={32}
        fontFamily={FONT}
        fill={INK}
      >
        {payload.value}
      </text>
    );
  };

  const mvTick = (props: any) => {
    const { y, payload } = props;
    return (
      <g>
        <line x1={Z_AXIS_W} x2={Z_AXIS_W + 7} y1={y} y2={y} stroke={FRAME} />
        <line x1={plotRight - 7} x2={plotRight} y1={y} y2={y} stroke={FRAME} />
        {zoomMvLabels.includes(payload.value) && (
          <text
            transform={`translate(${Z_AXIS_W - 6},${y + 11}) scale(0.8,1)`}
            textAnchor="end"
            fontSize={32}
            fontFamily={FONT}
            fill={INK}
          >
            {payload.value}
          </text>
        )}
      </g>
    );
  };

  return (
    <div style={{ position: "absolute", left: Z_LEFT, top: Z_TOP }}>
      <LineChart
        width={Z_W}
        height={Z_PAD_TOP + Z_PLOT_H + Z_AXIS_H}
        data={data}
        margin={{ top: Z_PAD_TOP, right: Z_RIGHT_PAD, bottom: 0, left: 0 }}
      >
        <XAxis
          type="number"
          dataKey="t"
          domain={[32, 33]}
          ticks={zoomTimeTicks}
          interval={0}
          allowDataOverflow
          height={Z_AXIS_H}
          axisLine={false}
          tickLine={false}
          tick={timeTick}
          label={() => (
            <text
              x={242.5}
              y={yBottom + 50}
              textAnchor="middle"
              fontSize={30}
              fontWeight="bold"
              fontFamily={FONT}
              fill="#000"
              textLength={155}
              lengthAdjust="spacingAndGlyphs"
            >
              Time [sec]
            </text>
          )}
        />
        <YAxis
          type="number"
          domain={[-2.19, 2]}
          ticks={zoomMvTicks}
          interval={0}
          allowDataOverflow
          width={Z_AXIS_W}
          axisLine={false}
          tickLine={false}
          tick={mvTick}
        />
        <ReferenceArea x1={32} x2={33} y1={-2.19} y2={2} fill="none" stroke="#666" strokeWidth={1.2} />
        <Line
          type="linear"
          dataKey="v"
          stroke="#000"
          strokeWidth={3}
          dot={false}
          activeDot={false}
          isAnimationActive={false}
        />
      </LineChart>
    </div>
  );
}

const letterStyle = {
  fontFamily: FONT,
  fontWeight: "bold" as const,
  fontSize: 38,
  fill: "#000",
};

export default function App() {
  return (
    <div
      style={{
        position: "absolute",
        left: 0,
        top: 0,
        width: 1417,
        height: 1458,
        background: "#fff",
        overflow: "hidden",
      }}
    >
      <EcgPanel plotTop={39.5} points={fibrillationEcg} domain={[-12.565, -2.555]} ticks={fibTicks} titleX={525} />
      <EcgPanel plotTop={428.3} points={postShockEcg} domain={[2.308, 12.298]} ticks={postTicks} titleX={525} />
      <EcgPanel plotTop={780.7} points={recoveryEcg} domain={[12.308, 22.298]} ticks={recoveryTicks} titleX={534} />
      <EcgPanel plotTop={1134} points={lateEcg} domain={[22.308, 32.298]} ticks={lateTicks} titleX={544} />
      <ZoomPanel />

      <svg
        width={1417}
        height={1458}
        style={{ position: "absolute", left: 0, top: 0, pointerEvents: "none" }}
      >
        <text transform="translate(0,37) scale(1.2,1)" {...letterStyle}>A</text>
        <text transform="translate(0,410) scale(1.2,1)" {...letterStyle}>B</text>
        <text transform="translate(0,784) scale(1.2,1)" {...letterStyle}>C</text>
        <text transform="translate(0,1134) scale(1.2,1)" {...letterStyle}>D</text>
        <text
          x={137}
          y={27}
          fontFamily={FONT}
          fontWeight="bold"
          fontSize={29}
          textLength={161}
          lengthAdjust="spacingAndGlyphs"
        >
          Fibrillation
        </text>
        <text
          x={122}
          y={416}
          fontFamily={FONT}
          fontWeight="bold"
          fontSize={30}
          textLength={273}
          lengthAdjust="spacingAndGlyphs"
        >
          Post-Defibrillation
        </text>
        <text x={1056} y={901} fontFamily={FONT} fontWeight="bold" fontSize={44}>
          E
        </text>
        <rect
          x={1036.5}
          y={843}
          width={377}
          height={538}
          fill="none"
          stroke="#000"
          strokeWidth={4}
          strokeDasharray="24 12"
        />
        <line x1={975} y1={1261} x2={1037} y2={1153} stroke="#000" strokeWidth={4} strokeDasharray="20 11" />
        <line x1={975} y1={1261} x2={1037} y2={1291} stroke="#000" strokeWidth={4} strokeDasharray="20 11" />
      </svg>
    </div>
  );
}
